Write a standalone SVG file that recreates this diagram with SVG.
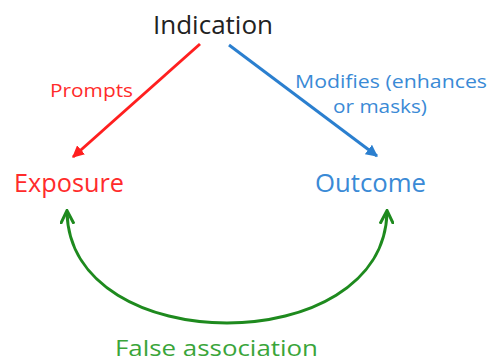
<svg xmlns="http://www.w3.org/2000/svg" width="491" height="362" viewBox="0 0 491 362">
  <style>
    text { font-family: "Open Sans", "Liberation Sans", sans-serif; }
    .node { font-size: 25px; }
    .lbl { font-size: 19px; }
    .foot { font-size: 22px; }
    .red { fill: #ff2b2b; }
    .blue { fill: #3a8ad6; }
    .green { fill: #3aa53a; }
    .dark { fill: #222222; }
  </style>
  <defs>
    <marker id="ahRed" viewBox="0 0 10 10" refX="9" refY="5" markerWidth="4" markerHeight="4" orient="auto" markerUnits="strokeWidth">
      <path d="M0,0 L10,5 L0,10 z" fill="#ff1f1f"/>
    </marker>
    <marker id="ahBlue" viewBox="0 0 10 10" refX="9" refY="5" markerWidth="4" markerHeight="4" orient="auto" markerUnits="strokeWidth">
      <path d="M0,0 L10,5 L0,10 z" fill="#2b7fcf"/>
    </marker>
    <marker id="ahGreen" viewBox="0 0 10 10" refX="8" refY="5" markerWidth="5" markerHeight="5" orient="auto-start-reverse" markerUnits="strokeWidth">
      <path d="M0,0.5 L9,5 L0,9.5" fill="none" stroke="#1e8a1e" stroke-width="2"/>
    </marker>
  </defs>

  <g id="connectors" fill="none" stroke-width="3">
    <line x1="200" y1="44" x2="73" y2="157" stroke="#ff1f1f" marker-end="url(#ahRed)"/>
    <line x1="229" y1="45" x2="377" y2="156" stroke="#2b7fcf" marker-end="url(#ahBlue)"/>
    <path d="M67,212 C70,360 384,360 387,212" stroke="#1e8a1e" marker-start="url(#ahGreen)" marker-end="url(#ahGreen)"/>
  </g>

  <g id="indication">
    <text class="node dark" x="153" y="34" textLength="120" lengthAdjust="spacingAndGlyphs">Indication</text>
  </g>
  <g id="exposure">
    <text class="node red" x="14" y="192" textLength="110" lengthAdjust="spacingAndGlyphs">Exposure</text>
  </g>
  <g id="outcome">
    <text class="node blue" x="315" y="192" textLength="111" lengthAdjust="spacingAndGlyphs">Outcome</text>
  </g>
  <g id="label-prompts">
    <text class="lbl red" x="50" y="97" textLength="83" lengthAdjust="spacingAndGlyphs">Prompts</text>
  </g>
  <g id="label-modifies">
    <text class="lbl blue" x="295" y="88" textLength="192" lengthAdjust="spacingAndGlyphs">Modifies (enhances</text>
    <text class="lbl blue" x="333" y="113" textLength="94" lengthAdjust="spacingAndGlyphs">or masks)</text>
  </g>
  <g id="label-false">
    <text class="foot green" x="115" y="356" textLength="203" lengthAdjust="spacingAndGlyphs">False association</text>
  </g>
</svg>
